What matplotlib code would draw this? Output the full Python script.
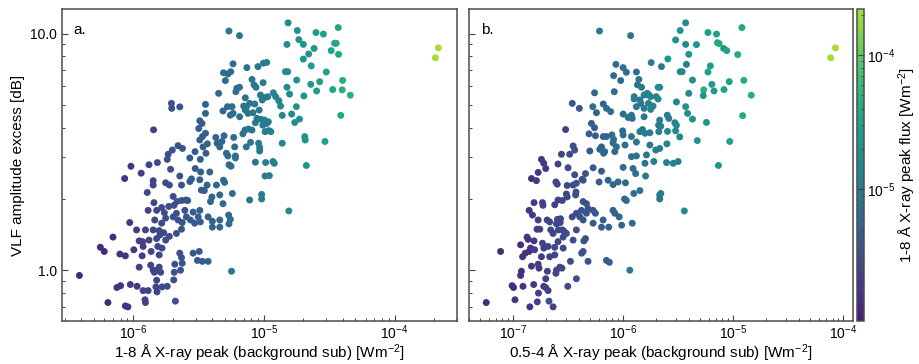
import numpy as np
import matplotlib.pyplot as plt
from matplotlib.colors import LogNorm, ListedColormap
from matplotlib.ticker import LogLocator, FormatStrFormatter, NullFormatter

plt.rcParams['font.family'] = ['Liberation Sans', 'DejaVu Sans']
plt.rcParams['mathtext.default'] = 'regular'

# panel a: 1-8 A background-subtracted peak [W m^-2], VLF excess [dB], 1-8 A peak flux (colour)
flux_a = [1.53e-5, 5.4e-6, 6.5e-6, 1.8e-5, 2.5e-5, 2.85e-5, 3.7e-5, 1.5e-5, 1.85e-5, 2.0e-5,
          2.42e-5, 2.2e-5, 2.0e-5, 3.27e-5, 3.47e-5, 3.57e-5, 3.72e-5, 2.16e-4, 2.05e-4, 5.8e-6,
          7.4e-6, 9.0e-6, 9.9e-6, 1.05e-5, 4.9e-6, 5.3e-6, 5.57e-6, 5.07e-6, 1.46e-5, 1.52e-5,
          2.3e-5, 3.0e-5, 1.78e-5, 2.28e-5, 2.67e-5, 4.0e-5, 3.97e-5, 4.58e-5, 3.36e-5, 2.53e-5,
          2.02e-5, 8.1e-6, 8.4e-6, 8.7e-6, 9.85e-6, 6.2e-6, 6.5e-6, 6.1e-6, 4.5e-6, 1.18e-5,
          1.23e-5, 1.3e-5, 1.34e-5, 1.07e-5, 1.02e-5, 9.4e-6, 9.7e-6, 1.5e-5, 1.57e-5, 1.96e-6,
          1.97e-6, 2.27e-6, 3.57e-6, 3.57e-6, 4.86e-6, 5.26e-6, 5.7e-6, 5.53e-6, 5.8e-6, 6.52e-6,
          7.0e-6, 7.33e-6, 7.2e-6, 7.77e-6, 8.5e-6, 7.55e-6, 8.24e-6, 9.2e-6, 9.5e-6, 8.85e-6,
          8.6e-6, 1.01e-5, 1.05e-5, 9.8e-6, 1.08e-5, 1.77e-5, 1.63e-5, 1.38e-5, 1.72e-5, 1.87e-5,
          3.87e-5, 3.23e-6, 3.36e-6, 3.17e-6, 1.43e-6, 3.57e-6, 3.38e-6, 3.23e-6, 3.42e-6, 3.69e-6,
          3.6e-6, 4.28e-6, 4.38e-6, 4.95e-6, 4.77e-6, 4.59e-6, 5.3e-6, 5.87e-6, 5.97e-6, 6.05e-6,
          6.9e-6, 7.15e-6, 7.6e-6, 8.1e-6, 7.33e-6, 7.9e-6, 9.1e-6, 9.27e-6, 9.27e-6, 1.02e-5,
          1.09e-5, 1.13e-5, 1.38e-5, 2.05e-5, 2.07e-5, 2.93e-5, 2.11e-5, 1.85e-6, 1.99e-6, 2.2e-6,
          2.38e-6, 2.71e-6, 2.97e-6, 1.82e-6, 1.53e-6, 1.32e-6, 9.6e-7, 1.15e-6, 1.93e-6, 2.27e-6,
          2.98e-6, 3.28e-6, 3.85e-6, 3.26e-6, 8.6e-6, 1.03e-5, 1.17e-5, 1.2e-5, 1.02e-5, 1.1e-5,
          5.6e-6, 5.4e-6, 6.05e-6, 5.16e-6, 8.6e-7, 1.42e-6, 1.42e-6, 1.77e-6, 1.89e-6, 2.34e-6,
          2.79e-6, 2.71e-6, 3.23e-6, 3.67e-6, 3.5e-6, 3.32e-6, 4.33e-6, 4.9e-6, 5.0e-6, 4.59e-6,
          4.0e-6, 5.73e-6, 4.86e-6, 3.9e-6, 1.28e-6, 2.02e-6, 2.16e-6, 2.34e-6, 2.52e-6, 2.61e-6,
          7.77e-6, 9.6e-6, 9.6e-6, 1.55e-5, 1.44e-6, 1.3e-6, 1.51e-6, 1.65e-6, 1.73e-6, 1.87e-6,
          2.05e-6, 1.77e-6, 1.65e-6, 1.58e-6, 2.02e-6, 2.14e-6, 2.2e-6, 2.48e-6, 2.55e-6, 2.87e-6,
          2.74e-6, 2.95e-6, 3.23e-6, 3.14e-6, 3.26e-6, 3.74e-6, 4.03e-6, 4.59e-6, 5.37e-6, 5.53e-6,
          5.4e-6, 4.03e-6, 4.59e-6, 2.37e-6, 2.34e-6, 2.14e-6, 1.89e-6, 1.77e-6, 9.4e-7, 1.06e-6,
          1.24e-6, 1.42e-6, 7.0e-7, 1.11e-6, 1.18e-6, 1.32e-6, 1.51e-6, 1.6e-6, 1.71e-6, 1.66e-6,
          1.54e-6, 1.37e-6, 1.19e-6, 1.01e-6, 5.6e-7, 6.0e-7, 7.9e-7, 8.7e-7, 1.17e-6, 1.58e-6,
          2.27e-6, 2.34e-6, 2.87e-6, 3.2e-6, 3.1e-6, 3.38e-6, 3.74e-6, 2.08e-6, 2.37e-6, 1.11e-6,
          1.36e-6, 1.42e-6, 1.51e-6, 1.58e-6, 1.62e-6, 1.45e-6, 2.06e-6, 2.3e-6, 5.65e-6, 3.87e-7,
          7.5e-7, 8.0e-7, 9.5e-7, 1.07e-6, 1.19e-6, 1.3e-6, 1.51e-6, 1.49e-6, 1.66e-6, 1.82e-6,
          2.04e-6, 1.52e-6, 6.4e-7, 8.7e-7, 9.1e-7, 1.23e-6, 1.24e-6, 2.1e-6, 1.46e-6, 7.2e-6]

vlf_a = [11.1, 10.25, 9.8, 10.3, 10.1, 9.95, 10.6, 9.0, 9.43, 9.0,
         8.65, 8.2, 7.8, 8.47, 9.1, 9.1, 8.17, 8.7, 7.9, 7.45,
         7.18, 7.25, 7.5, 7.55, 6.83, 6.75, 6.9, 6.33, 6.9, 6.9,
         7.3, 6.88, 6.36, 6.1, 6.26, 6.34, 5.78, 5.49, 5.8, 5.72,
         5.45, 6.4, 6.07, 5.93, 6.2, 5.87, 5.93, 5.68, 5.59, 5.62,
         5.41, 5.2, 4.94, 5.41, 5.37, 5.5, 5.24, 5.93, 5.55, 5.07,
         4.83, 4.9, 5.02, 4.6, 4.71, 4.91, 4.91, 4.52, 4.6, 4.45,
         4.94, 4.88, 4.75, 5.07, 5.04, 4.6, 4.63, 4.75, 4.34, 4.38,
         4.2, 4.31, 4.17, 4.1, 4.24, 4.91, 4.57, 4.51, 4.21, 4.35,
         4.51, 4.28, 4.17, 3.97, 3.92, 3.79, 3.67, 3.55, 3.32, 3.42,
         3.12, 3.64, 3.44, 3.7, 3.5, 3.32, 3.04, 3.64, 3.32, 3.04,
         3.77, 3.91, 3.95, 3.91, 3.32, 3.47, 3.44, 3.3, 3.19, 3.85,
         3.89, 3.85, 3.44, 3.67, 3.55, 3.5, 2.77, 3.09, 3.22, 3.36,
         3.27, 2.98, 3.17, 2.94, 2.85, 2.79, 2.75, 2.57, 2.67, 2.5,
         2.69, 2.6, 2.6, 2.94, 2.86, 2.85, 2.88, 2.83, 2.5, 2.51,
         2.75, 2.79, 2.98, 3.12, 2.44, 2.39, 2.29, 2.34, 2.29, 2.29,
         2.43, 2.37, 2.41, 2.29, 2.17, 2.18, 2.29, 2.4, 2.35, 2.08,
         2.04, 2.11, 1.91, 1.95, 2.13, 2.05, 1.95, 1.97, 1.98, 1.97,
         1.98, 2.09, 2.0, 1.78, 1.93, 1.79, 1.79, 1.84, 1.75, 1.86,
         1.88, 1.66, 1.58, 1.47, 1.68, 1.74, 1.63, 1.79, 1.68, 1.76,
         1.63, 1.58, 1.79, 1.68, 1.6, 1.68, 1.61, 1.63, 1.71, 1.64,
         1.57, 1.52, 1.52, 1.59, 1.49, 1.43, 1.39, 1.34, 1.59, 1.48,
         1.48, 1.48, 1.38, 1.33, 1.32, 1.34, 1.36, 1.41, 1.44, 1.24,
         1.26, 1.2, 1.26, 1.22, 1.25, 1.2, 1.17, 1.15, 1.15, 1.16,
         1.18, 1.13, 1.18, 1.2, 1.1, 1.09, 1.09, 1.06, 1.07, 1.03,
         1.05, 1.0, 1.0, 1.03, 0.98, 0.98, 0.98, 1.0, 0.99, 0.95,
         0.845, 0.86, 0.87, 0.855, 0.82, 0.82, 0.907, 0.85, 0.85, 0.855,
         0.91, 0.81, 0.73, 0.706, 0.70, 0.75, 0.73, 0.74, 1.63, 5.35]

peak_a = [1.7e-5, 9e-6, 8e-6, 2e-5, 2.6e-5, 2.8e-5, 3.5e-5, 1.6e-5, 1.9e-5, 2e-5,
          2.4e-5, 2.2e-5, 2e-5, 3e-5, 3.3e-5, 3.4e-5, 3.6e-5, 2.2e-4, 2.1e-4, 7e-6,
          8e-6, 9e-6, 1e-5, 1.05e-5, 6.5e-6, 6.5e-6, 7e-6, 6e-6, 1.5e-5, 1.5e-5,
          2.3e-5, 3e-5, 1.8e-5, 2.3e-5, 2.7e-5, 4e-5, 4e-5, 4.5e-5, 3.3e-5, 2.5e-5,
          2e-5, 8.5e-6, 8.5e-6, 9e-6, 1e-5, 7e-6, 7e-6, 7e-6, 5.5e-6, 1.2e-5,
          1.2e-5, 1.3e-5, 1.3e-5, 1.1e-5, 1.05e-5, 1e-5, 1e-5, 1.5e-5, 1.6e-5, 3.5e-6,
          3.5e-6, 3.5e-6, 5e-6, 5e-6, 6e-6, 6.5e-6, 7e-6, 6.5e-6, 7e-6, 7.5e-6,
          8e-6, 8e-6, 8e-6, 8.5e-6, 9e-6, 8e-6, 8.5e-6, 9.5e-6, 1e-5, 9e-6,
          9e-6, 1e-5, 1.05e-5, 1e-5, 1.1e-5, 1.8e-5, 1.7e-5, 1.4e-5, 1.8e-5, 1.9e-5,
          3.8e-5, 4.5e-6, 4.5e-6, 4.5e-6, 2.2e-6, 5e-6, 4.5e-6, 4.5e-6, 4.5e-6, 5e-6,
          4.5e-6, 5.5e-6, 5.5e-6, 6e-6, 6e-6, 5.5e-6, 6.5e-6, 7e-6, 7e-6, 7e-6,
          8e-6, 8e-6, 8.5e-6, 8.5e-6, 8e-6, 8.5e-6, 9.5e-6, 9.5e-6, 9.5e-6, 1.05e-5,
          1.1e-5, 1.15e-5, 1.4e-5, 2.1e-5, 2.1e-5, 3e-5, 2.1e-5, 3.3e-6, 3.3e-6, 3.5e-6,
          3.7e-6, 4e-6, 4.2e-6, 3e-6, 2.6e-6, 2.4e-6, 1.7e-6, 2.2e-6, 3.2e-6, 3.5e-6,
          4.2e-6, 4.5e-6, 5e-6, 4.5e-6, 9e-6, 1.05e-5, 1.15e-5, 1.2e-5, 1.05e-5, 1.1e-5,
          6.5e-6, 6.5e-6, 7e-6, 6.5e-6, 1.6e-6, 2.5e-6, 2.5e-6, 2.9e-6, 3e-6, 3.5e-6,
          4e-6, 4e-6, 4.5e-6, 5e-6, 4.8e-6, 4.6e-6, 5.5e-6, 6e-6, 6e-6, 5.5e-6,
          5e-6, 6.5e-6, 6e-6, 5e-6, 2.4e-6, 3.2e-6, 3.4e-6, 3.5e-6, 3.7e-6, 3.8e-6,
          8.5e-6, 1e-5, 1e-5, 1.6e-5, 2.6e-6, 2.4e-6, 2.6e-6, 2.8e-6, 2.9e-6, 3e-6,
          3.2e-6, 2.9e-6, 2.7e-6, 2.6e-6, 3.2e-6, 3.3e-6, 3.4e-6, 3.7e-6, 3.8e-6, 4.1e-6,
          4e-6, 4.2e-6, 4.5e-6, 4.4e-6, 4.5e-6, 5e-6, 5.2e-6, 5.6e-6, 6.3e-6, 6.5e-6,
          6.3e-6, 5.2e-6, 5.6e-6, 3.6e-6, 3.5e-6, 3.3e-6, 3e-6, 2.9e-6, 1.9e-6, 2e-6,
          2.3e-6, 2.5e-6, 1.5e-6, 2.1e-6, 2.2e-6, 2.4e-6, 2.6e-6, 2.7e-6, 2.8e-6, 2.7e-6,
          2.6e-6, 2.4e-6, 2.2e-6, 1.9e-6, 1.4e-6, 1.4e-6, 1.6e-6, 1.7e-6, 2.1e-6, 2.6e-6,
          3.3e-6, 3.4e-6, 4e-6, 4.4e-6, 4.3e-6, 4.6e-6, 5e-6, 3.2e-6, 3.5e-6, 2.1e-6,
          2.4e-6, 2.5e-6, 2.6e-6, 2.6e-6, 2.7e-6, 2.5e-6, 3.2e-6, 3.4e-6, 9e-6, 1.3e-6,
          1.6e-6, 1.6e-6, 1.9e-6, 2e-6, 2.2e-6, 2.3e-6, 2.5e-6, 2.5e-6, 2.7e-6, 2.9e-6,
          3.1e-6, 2.5e-6, 1.4e-6, 1.7e-6, 1.7e-6, 2.2e-6, 2.2e-6, 3.2e-6, 2.6e-6, 8e-6]

# panel b: 0.5-4 A background-subtracted peak [W m^-2], VLF excess [dB], 1-8 A peak flux (colour)
flux_b = [3.7e-6, 1.2e-5, 6.1e-7, 1.17e-6, 3.3e-6, 5.9e-6, 7.06e-6, 3.0e-6, 3.7e-6, 4.64e-6,
          7.2e-6, 7.45e-6, 8.2e-6, 8.75e-6, 1.1e-5, 3.95e-6, 3.76e-6, 2.55e-6, 1.8e-6, 7.7e-5,
          8.5e-5, 8.6e-7, 1.0e-6, 1.07e-6, 1.32e-6, 8.2e-7, 9.5e-7, 1.39e-6, 2.23e-6, 3.3e-6,
          3.44e-6, 6.2e-6, 5.9e-6, 4.27e-6, 9.2e-6, 1.25e-5, 6.4e-6, 8.25e-6, 1.46e-5, 5.4e-6,
          6.7e-6, 3.95e-6, 3.05e-6, 3.7e-6, 3.85e-6, 4.27e-6, 5.72e-6, 1.22e-5, 9.3e-6, 7.35e-6,
          4.72e-6, 3.27e-6, 1.35e-6, 1.47e-6, 2.08e-6, 2.15e-6, 1.26e-6, 1.26e-6, 1.55e-6, 1.63e-6,
          1.72e-6, 1.77e-6, 1.66e-6, 2.0e-6, 2.08e-6, 1.45e-6, 1.7e-6, 1.87e-6, 1.78e-6, 1.55e-6,
          1.42e-6, 1.32e-6, 8.3e-7, 5.5e-7, 5.3e-7, 3.45e-7, 4.0e-7, 6.6e-7, 7.06e-7, 7.7e-7,
          5.72e-7, 1.0e-6, 1.11e-6, 1.19e-6, 1.21e-6, 1.55e-6, 2.15e-6, 2.1e-6, 2.52e-6, 2.6e-6,
          2.95e-6, 3.05e-6, 5.15e-7, 5.5e-7, 3.0e-7, 4.9e-7, 5.6e-7, 6.6e-7, 7.06e-7, 7.9e-7,
          8.2e-7, 8.1e-7, 9.9e-7, 1.0e-6, 1.19e-6, 1.32e-6, 1.42e-6, 1.5e-6, 1.58e-6, 1.75e-6,
          2.11e-6, 2.2e-6, 2.53e-6, 3.0e-6, 3.51e-7, 3.63e-7, 3.27e-7, 2.75e-7, 4.98e-7, 6.14e-7,
          6.36e-7, 6.8e-7, 6.65e-7, 8.4e-7, 8.7e-7, 1.04e-6, 1.19e-6, 1.32e-6, 1.63e-6, 1.75e-6,
          1.98e-6, 2.5e-6, 2.15e-6, 1.81e-7, 1.9e-7, 1.98e-7, 2.56e-7, 1.69e-7, 1.47e-7, 1.63e-7,
          3.16e-7, 3.63e-7, 4.24e-7, 4.55e-7, 5.34e-7, 6.36e-7, 1.0e-6, 1.23e-6, 1.3e-6, 1.58e-6,
          1.9e-6, 2.48e-6, 2.85e-6, 3.16e-6, 1.6e-6, 2.45e-7, 2.52e-7, 3.1e-7, 3.51e-7, 3.76e-7,
          4.33e-7, 6.05e-7, 7.3e-7, 8.1e-7, 9.0e-7, 1.05e-6, 1.25e-6, 1.03e-6, 1.07e-6, 1.42e-6,
          2.15e-6, 2.2e-6, 2.15e-6, 3.6e-6, 3.73e-7, 3.7e-7, 3.05e-7, 3.1e-7, 2.56e-7, 2.8e-7,
          2.39e-7, 4.33e-7, 4.64e-7, 4.8e-7, 5.34e-7, 5.6e-7, 4.64e-7, 4.18e-7, 3.76e-7, 3.45e-7,
          4.04e-7, 4.33e-7, 6.58e-7, 6.36e-7, 5.34e-7, 8.1e-7, 8.4e-7, 9.2e-7, 9.7e-7, 1.21e-6,
          7.4e-7, 1.4e-7, 1.5e-7, 1.55e-7, 1.85e-7, 1.87e-7, 1.69e-7, 2.04e-7, 2.15e-7, 2.53e-7,
          2.7e-7, 2.68e-7, 2.48e-7, 1.75e-7, 1.65e-7, 2.2e-7, 2.31e-7, 2.58e-7, 2.8e-7, 2.85e-7,
          2.9e-7, 3.05e-7, 3.51e-7, 3.76e-7, 4.55e-7, 4.4e-7, 1.34e-7, 1.37e-7, 1.17e-7, 1.44e-7,
          1.4e-7, 1.22e-7, 1.29e-7, 1.55e-7, 1.57e-7, 1.85e-7, 1.9e-7, 2.08e-7, 2.56e-7, 2.39e-7,
          2.85e-7, 2.39e-7, 2.15e-7, 1.81e-7, 3.32e-7, 4.2e-7, 4.33e-7, 4.8e-7, 7.06e-7, 7.5e-7,
          1.15e-6, 7.7e-8, 1.47e-7, 1.19e-7, 1.17e-7, 1.69e-7, 1.72e-7, 2.05e-7, 2.48e-7, 2.66e-7,
          2.78e-7, 2.45e-7, 1.98e-7, 3.76e-7, 3.14e-7, 9.8e-8, 1.01e-7, 1.23e-7, 1.54e-7, 1.9e-7,
          1.98e-7, 2.08e-7, 1.7e-7, 5.7e-8, 1.04e-7, 1.42e-7, 1.66e-7, 2.12e-7, 2.31e-7, 5.35e-6]

vlf_b = [11.1, 10.6, 10.25, 9.8, 10.3, 10.1, 9.95, 9.4, 9.0, 8.98,
         9.15, 9.07, 8.65, 8.47, 8.15, 8.17, 7.41, 7.81, 7.54, 7.9,
         8.7, 7.41, 7.18, 6.86, 6.88, 6.64, 6.33, 6.4, 7.25, 6.9,
         6.9, 7.3, 6.88, 6.36, 6.26, 6.34, 6.1, 5.8, 5.49, 5.78,
         5.72, 5.59, 5.14, 4.91, 4.6, 4.35, 4.21, 4.5, 3.5, 2.77,
         3.53, 3.66, 6.07, 5.93, 5.93, 5.93, 5.41, 5.29, 5.5, 5.53,
         5.5, 5.41, 5.59, 5.41, 5.29, 5.07, 5.07, 4.94, 4.78, 4.83,
         5.24, 4.91, 5.68, 5.62, 4.91, 5.07, 4.83, 5.04, 4.83, 4.68,
         4.63, 4.57, 4.42, 4.52, 4.38, 4.45, 4.31, 4.1, 4.52, 4.38,
         4.2, 4.1, 4.17, 4.0, 3.93, 3.77, 3.7, 3.67, 3.67, 3.73,
         3.57, 3.45, 3.88, 3.73, 3.67, 3.48, 3.85, 3.93, 3.79, 3.81,
         3.85, 4.06, 3.86, 3.88, 3.35, 3.22, 3.09, 3.09, 3.19, 3.24,
         3.32, 3.17, 3.12, 3.17, 3.32, 3.38, 3.02, 3.04, 3.07, 3.38,
         3.22, 3.42, 3.27, 2.94, 2.83, 2.69, 2.81, 2.59, 2.44, 2.39,
         2.71, 2.53, 2.42, 2.56, 2.71, 2.62, 2.72, 2.69, 2.56, 2.83,
         2.88, 2.85, 2.83, 2.88, 2.5, 2.36, 2.31, 2.28, 2.29, 2.33,
         2.4, 2.36, 2.4, 2.3, 2.36, 2.34, 2.11, 2.0, 1.97, 2.17,
         2.08, 2.11, 2.0, 1.78, 2.14, 2.08, 2.1, 2.04, 1.98, 1.97,
         1.89, 1.95, 1.91, 1.82, 1.79, 1.74, 1.74, 1.79, 1.74, 1.68,
         1.68, 1.63, 1.63, 1.52, 1.58, 1.79, 1.74, 1.68, 1.55, 1.58,
         1.52, 1.79, 1.71, 1.93, 1.93, 1.88, 1.63, 1.63, 1.6, 1.64,
         1.65, 1.59, 1.57, 1.49, 1.49, 1.48, 1.43, 1.48, 1.48, 1.38,
         1.46, 1.43, 1.34, 1.48, 1.36, 1.33, 1.38, 1.35, 1.28, 1.24,
         1.2, 1.14, 1.18, 1.33, 1.22, 1.3, 1.24, 1.26, 1.32, 1.25,
         1.24, 1.16, 1.14, 1.14, 1.09, 1.18, 1.2, 1.09, 1.1, 1.08,
         1.0, 1.2, 1.04, 0.99, 0.95, 1.06, 1.02, 0.99, 1.0, 1.03,
         1.02, 0.97, 0.92, 0.92, 0.855, 0.86, 0.845, 0.855, 0.87, 0.855,
         0.845, 0.82, 0.8, 0.73, 0.75, 0.70, 0.735, 0.74, 0.70, 5.47]

peak_b = [1.7e-5, 3.5e-5, 9e-6, 8e-6, 2e-5, 2.6e-5, 2.8e-5, 1.9e-5, 1.6e-5, 2e-5,
          3.3e-5, 3.4e-5, 2.4e-5, 3e-5, 3.6e-5, 2.2e-5, 1.05e-5, 2e-5, 1e-5, 2.1e-4,
          2.2e-4, 7e-6, 8e-6, 6.5e-6, 7e-6, 6.5e-6, 6e-6, 8.5e-6, 9e-6, 1.5e-5,
          1.5e-5, 2.3e-5, 3e-5, 1.8e-5, 2.7e-5, 4e-5, 2.3e-5, 3.3e-5, 4.5e-5, 4.2e-5,
          2.5e-5, 1.5e-5, 1.2e-5, 1.8e-5, 1.7e-5, 1.9e-5, 1.8e-5, 3.8e-5, 3e-5, 2.1e-5,
          2.1e-5, 1.4e-5, 8.5e-6, 9e-6, 1.5e-5, 1.5e-5, 1e-5, 1e-5, 1.2e-5, 1.2e-5,
          1.3e-5, 1.3e-5, 1.2e-5, 1.1e-5, 1.5e-5, 9e-6, 1.1e-5, 1.3e-5, 1.3e-5, 1e-5,
          1e-5, 9e-6, 7e-6, 5.5e-6, 6.5e-6, 3.5e-6, 3.5e-6, 5e-6, 6e-6, 7e-6,
          5e-6, 7e-6, 7.5e-6, 8e-6, 8e-6, 9e-6, 1e-5, 1e-5, 1.05e-5, 1.1e-5,
          1.3e-5, 1.35e-5, 4.5e-6, 4.5e-6, 2.2e-6, 4.5e-6, 4.8e-6, 5.5e-6, 5.5e-6, 6.5e-6,
          6.5e-6, 6.5e-6, 7e-6, 7e-6, 8e-6, 8.5e-6, 9e-6, 9.5e-6, 1e-5, 1.05e-5,
          1.1e-5, 1.1e-5, 1.4e-5, 1.4e-5, 3.2e-6, 3.3e-6, 2.8e-6, 2.4e-6, 4e-6, 5e-6,
          5e-6, 5.5e-6, 5.5e-6, 6e-6, 6.5e-6, 7.5e-6, 7.5e-6, 8e-6, 9e-6, 9.5e-6,
          1e-5, 1.2e-5, 1.05e-5, 1.8e-6, 1.9e-6, 1.9e-6, 2.3e-6, 1.8e-6, 1.5e-6, 2e-6,
          2.8e-6, 3e-6, 3.4e-6, 3.5e-6, 4e-6, 4.5e-6, 6.5e-6, 7e-6, 7e-6, 8.5e-6,
          1.05e-5, 1.1e-5, 1.15e-5, 1.2e-5, 1e-5, 2.3e-6, 2.4e-6, 2.7e-6, 3e-6, 3.2e-6,
          3.5e-6, 4.5e-6, 5e-6, 5.5e-6, 5.5e-6, 6e-6, 6.5e-6, 6e-6, 6e-6, 8e-6,
          1e-5, 1e-5, 8.5e-6, 1.6e-5, 3e-6, 3e-6, 2.7e-6, 2.7e-6, 2.4e-6, 2.6e-6,
          2.3e-6, 3.4e-6, 3.6e-6, 3.6e-6, 4e-6, 4e-6, 3.6e-6, 3.3e-6, 3.1e-6, 2.9e-6,
          3.2e-6, 3.4e-6, 4.5e-6, 4.5e-6, 4e-6, 5e-6, 5e-6, 5.5e-6, 5.5e-6, 6.3e-6,
          4.8e-6, 1.7e-6, 1.9e-6, 2e-6, 2.2e-6, 2.2e-6, 2e-6, 2.3e-6, 2.4e-6, 2.6e-6,
          2.6e-6, 2.6e-6, 2.5e-6, 2.1e-6, 2.1e-6, 2.5e-6, 2.5e-6, 2.7e-6, 2.8e-6, 2.8e-6,
          2.8e-6, 2.9e-6, 3e-6, 3.1e-6, 3.5e-6, 3.4e-6, 1.7e-6, 1.7e-6, 1.5e-6, 1.8e-6,
          1.7e-6, 1.6e-6, 1.7e-6, 2e-6, 2e-6, 2.2e-6, 2.3e-6, 2.4e-6, 2.6e-6, 2.5e-6,
          2.8e-6, 2.5e-6, 2.3e-6, 2.1e-6, 3e-6, 3.3e-6, 3.4e-6, 3.6e-6, 4.5e-6, 4.6e-6,
          9e-6, 1.4e-6, 1.8e-6, 1.6e-6, 1.6e-6, 2e-6, 2e-6, 2.3e-6, 2.5e-6, 2.6e-6,
          2.7e-6, 2.5e-6, 2.2e-6, 3.1e-6, 2.7e-6, 1.5e-6, 1.5e-6, 1.7e-6, 2e-6, 2.2e-6,
          2.3e-6, 2.3e-6, 2.1e-6, 1.4e-6, 1.7e-6, 1.7e-6, 2.2e-6, 3.2e-6, 2.2e-6, 2e-5]

cmap = ListedColormap(plt.cm.viridis(np.linspace(0.08, 0.87, 256)))
norm = LogNorm(vmin=1.05e-6, vmax=2.2e-4)

fig = plt.figure(figsize=(9.19, 3.64), dpi=100)
W, H = 919.0, 364.0
ax_a = fig.add_axes([62 / W, 43 / H, 395 / W, 312 / H])
ax_b = fig.add_axes([469.3 / W, 43 / H, 383.4 / W, 312 / H])
cax = fig.add_axes([856.7 / W, 43 / H, 7.3 / W, 312 / H])

sc = ax_a.scatter(flux_a, vlf_a, c=peak_a, cmap=cmap, norm=norm, s=25, linewidths=0)
ax_b.scatter(flux_b, vlf_b, c=peak_b, cmap=cmap, norm=norm, s=25, linewidths=0)

for ax, xlim in ((ax_a, (2.85e-7, 3.0e-4)), (ax_b, (4.0e-8, 1.22e-4))):
    ax.set_xscale('log')
    ax.set_yscale('log')
    ax.set_xlim(*xlim)
    ax.set_ylim(0.61, 12.7)
    ax.xaxis.set_major_locator(LogLocator(base=10))
    ax.xaxis.set_minor_locator(LogLocator(base=10, subs=np.arange(2, 10)))
    ax.xaxis.set_minor_formatter(NullFormatter())
    ax.yaxis.set_major_locator(LogLocator(base=10))
    ax.yaxis.set_minor_locator(LogLocator(base=10, subs=np.arange(2, 10)))
    ax.yaxis.set_minor_formatter(NullFormatter())
    ax.tick_params(which='both', direction='in', top=False, right=False,
                   labelsize=10, color='0.25')
    ax.tick_params(axis='x', pad=2)
    ax.tick_params(which='major', length=4, width=0.8)
    ax.tick_params(which='minor', length=2.3, width=0.7)
    for sp in ax.spines.values():
        sp.set_color('0.3')
        sp.set_linewidth(1.1)

ax_a.yaxis.set_major_formatter(FormatStrFormatter('%.1f'))
ax_b.yaxis.set_major_formatter(NullFormatter())

ax_a.set_ylabel('VLF amplitude excess [dB]', fontsize=11)
ax_a.set_xlabel('1-8 Å X-ray peak (background sub) [Wm$^{-2}$]', fontsize=11, labelpad=0.5)
ax_b.set_xlabel('0.5-4 Å X-ray peak (background sub) [Wm$^{-2}$]', fontsize=11, labelpad=0.5)

ax_a.text(0.03, 0.955, 'a.', transform=ax_a.transAxes, fontsize=11, va='top')
ax_b.text(0.03, 0.955, 'b.', transform=ax_b.transAxes, fontsize=11, va='top')

cb = fig.colorbar(sc, cax=cax)
cb.set_label('1-8 Å X-ray peak flux [Wm$^{-2}$]', fontsize=11, labelpad=1)
cax.tick_params(which='both', direction='in', labelsize=10, color='0.25', pad=2)
cax.tick_params(which='major', length=4)
cax.tick_params(which='minor', length=2.3)
cb.outline.set_edgecolor('0.3')
cb.outline.set_linewidth(1.1)

fig.savefig('out.png', dpi=100)
